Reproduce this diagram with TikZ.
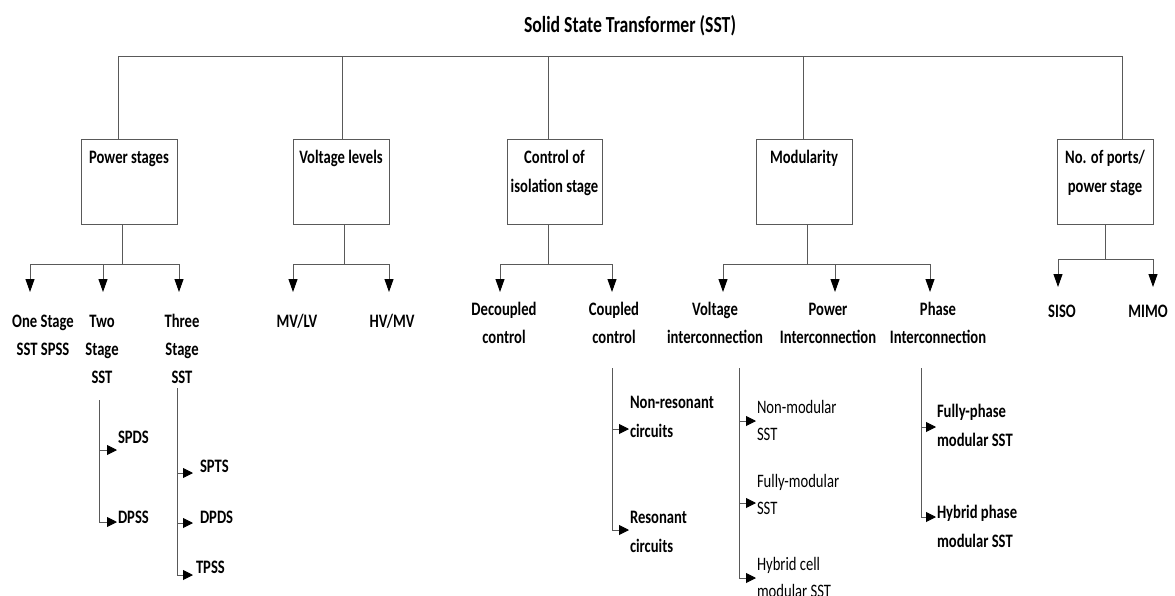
\documentclass[tikz,border=0pt]{standalone}
\usepackage{fontspec}
\setmainfont{Carlito}[FakeStretch=0.77]
\usetikzlibrary{arrows.meta}
% fixed first-line height so that text blocks line up by their top edge
\newcommand{\fl}{\rule{0pt}{14pt}}
\begin{document}
\begin{tikzpicture}[x=1pt,y=-1pt,
  every node/.style={inner sep=0pt, outer sep=0pt, text=black},
  ln/.style={draw=black!65, line width=0.9pt},
  catbox/.style={ln, rectangle, minimum width=96pt, minimum height=85pt, anchor=north west},
  boxtxt/.style={anchor=north, align=center, font=\bfseries\fontsize{19pt}{29pt}\selectfont},
  leaf/.style={anchor=north, align=center, font=\bfseries\fontsize{19pt}{28pt}\selectfont},
  subleaf/.style={anchor=north west, align=left, font=\bfseries\fontsize{19pt}{29pt}\selectfont},
  subleafr/.style={anchor=north west, align=left, font=\fontsize{19pt}{27pt}\selectfont},
  down/.style={ln, -{Triangle[length=13pt,width=9pt,color=black]}},
  side/.style={ln, -{Triangle[length=10pt,width=10pt,color=black]}},
]
\fill[white] (0,0) rectangle (1175,595);
\useasboundingbox (0,0) rectangle (1175,595);

% ---- root ----
\node[font=\bfseries\fontsize{23pt}{26pt}\selectfont] (title) at (630,26) {Solid State Transformer (SST)};
\coordinate (busL) at (118,56);
\coordinate (busR) at (1122,56);
\draw[ln] (busL) -- (busR);

% ---- categories ----
\node[catbox] (ps) at (81,139) {};
\node[catbox] (vl) at (293,139) {};
\node[catbox, minimum width=95pt] (ci) at (507,139) {};
\node[catbox] (mo) at (756,139) {};
\node[catbox] (np) at (1057,139) {};

\node[boxtxt] (ps-t) at (129,149.5) {\fl Power stages};
\node[boxtxt] (vl-t) at (341,149.5) {\fl Voltage levels};
\node[boxtxt] (ci-t) at (554.5,149.5) {\fl Control of\\isolation stage};
\node[boxtxt] (mo-t) at (804,149.5) {\fl Modularity};
\node[boxtxt] (np-t) at (1105,149.5) {\fl No. of ports/\\power stage};

% entry points on the box tops
\coordinate (ps-in) at (118,139);
\coordinate (vl-in) at (342,139);
\coordinate (ci-in) at (548,139);
\coordinate (mo-in) at (803,139);
\coordinate (np-in) at (1122,139);
\foreach \c in {ps,vl,ci,mo,np}
  \draw[ln] (\c-in |- busL) -- (\c-in);

% exit points on the box bottoms and branch points
\coordinate (ps-out) at (122,224);  \coordinate (ps-br) at (122,264);
\coordinate (vl-out) at (344,224);  \coordinate (vl-br) at (344,264);
\coordinate (ci-out) at (548,224);  \coordinate (ci-br) at (548,264);
\coordinate (mo-out) at (807,224);  \coordinate (mo-br) at (807,264);
\coordinate (np-out) at (1105,224); \coordinate (np-br) at (1105,259);
\foreach \c in {ps,vl,ci,mo,np}
  \draw[ln] (\c-out) -- (\c-br);

% ---- second level ----
\node[leaf] (l-one)   at (43,313.5)  {\fl One Stage\\SST SPSS};
\node[leaf] (l-two)   at (102,313.5) {\fl Two\\Stage\\SST};
\node[leaf] (l-three) at (182,313.5) {\fl Three\\Stage\\SST};
\node[leaf] (l-mvlv)  at (297,313.5) {\fl MV/LV};
\node[leaf] (l-hvmv)  at (392,313.5) {\fl HV/MV};
\node[leaf] (l-dec)   at (504,301.5) {\fl Decoupled\\control};
\node[leaf] (l-cou)   at (614,301.5) {\fl Coupled\\control};
\node[leaf] (l-vi)    at (715,301.5) {\fl Voltage\\interconnection};
\node[leaf] (l-pi)    at (828,301.5) {\fl Power\\Interconnection};
\node[leaf] (l-phi)   at (938,301.5) {\fl Phase\\Interconnection};
\node[leaf] (l-siso)  at (1062,303.5) {\fl SISO};
\node[leaf] (l-mimo)  at (1148,303.5) {\fl MIMO};

% arrow tips above the second-level labels
\coordinate (t-one)   at (30,292);
\coordinate (t-two)   at (103,292);
\coordinate (t-three) at (179,292);
\coordinate (t-mvlv)  at (293,292);
\coordinate (t-hvmv)  at (389,292);
\coordinate (t-dec)   at (500,292);
\coordinate (t-cou)   at (612,292);
\coordinate (t-vi)    at (723,292);
\coordinate (t-pi)    at (835,292);
\coordinate (t-phi)   at (930,292);
\coordinate (t-siso)  at (1058,287);
\coordinate (t-mimo)  at (1153,287);

\foreach \t in {one,two,three} \draw[down] (ps-br) -| (t-\t);
\foreach \t in {mvlv,hvmv} \draw[down] (vl-br) -| (t-\t);
\foreach \t in {dec,cou} \draw[down] (ci-br) -| (t-\t);
\foreach \t in {vi,pi,phi} \draw[down] (mo-br) -| (t-\t);
\foreach \t in {siso,mimo} \draw[down] (np-br) -| (t-\t);

% ---- third level ----
\node[subleaf] (s-spds) at (118,429.5) {\fl SPDS};
\node[subleaf] (s-dpss) at (118,509.5) {\fl DPSS};
\node[subleaf] (s-spts) at (200,458.5) {\fl SPTS};
\node[subleaf] (s-dpds) at (200,509.5) {\fl DPDS};
\node[subleaf] (s-tpss) at (196,559.5) {\fl TPSS};
\node[subleaf] (s-nonres) at (630,394.5) {\fl Non-resonant\\circuits};
\node[subleaf] (s-res)    at (630,509.5) {\fl Resonant\\circuits};
\node[subleafr] (s-nonmod)  at (757,399.5) {\fl Non-modular\\SST};
\node[subleafr] (s-fullmod) at (757,473.5) {\fl Fully-modular\\SST};
\node[subleafr] (s-hyb)     at (757,556.5) {\fl Hybrid cell\\modular SST};
\node[subleaf] (s-fullph) at (937,403.5) {\fl Fully-phase\\modular SST};
\node[subleaf] (s-hybph)  at (937,504.5) {\fl Hybrid phase\\modular SST};

% stems and side arrows
\coordinate (two-top) at (99,400);
\coordinate (tp-spds) at (117,450);
\coordinate (tp-dpss) at (117,522);
\foreach \t in {spds,dpss} \draw[side] (two-top) |- (tp-\t);

\coordinate (three-top) at (177,388);
\coordinate (tp-spts) at (193,473);
\coordinate (tp-dpds) at (193,523);
\coordinate (tp-tpss) at (193,575);
\foreach \t in {spts,dpds,tpss} \draw[side] (three-top) |- (tp-\t);

\coordinate (cou-top) at (612,368);
\coordinate (tp-nonres) at (629,429);
\coordinate (tp-res) at (629,530);
\foreach \t in {nonres,res} \draw[side] (cou-top) |- (tp-\t);

\coordinate (vi-top) at (739,368);
\coordinate (tp-nonmod) at (756,421);
\coordinate (tp-fullmod) at (756,503);
\coordinate (tp-hyb) at (756,578);
\foreach \t in {nonmod,fullmod,hyb} \draw[side] (vi-top) |- (tp-\t);

\coordinate (phi-top) at (921,368);
\coordinate (tp-fullph) at (936,427);
\coordinate (tp-hybph) at (936,517);
\foreach \t in {fullph,hybph} \draw[side] (phi-top) |- (tp-\t);
\end{tikzpicture}
\end{document}
